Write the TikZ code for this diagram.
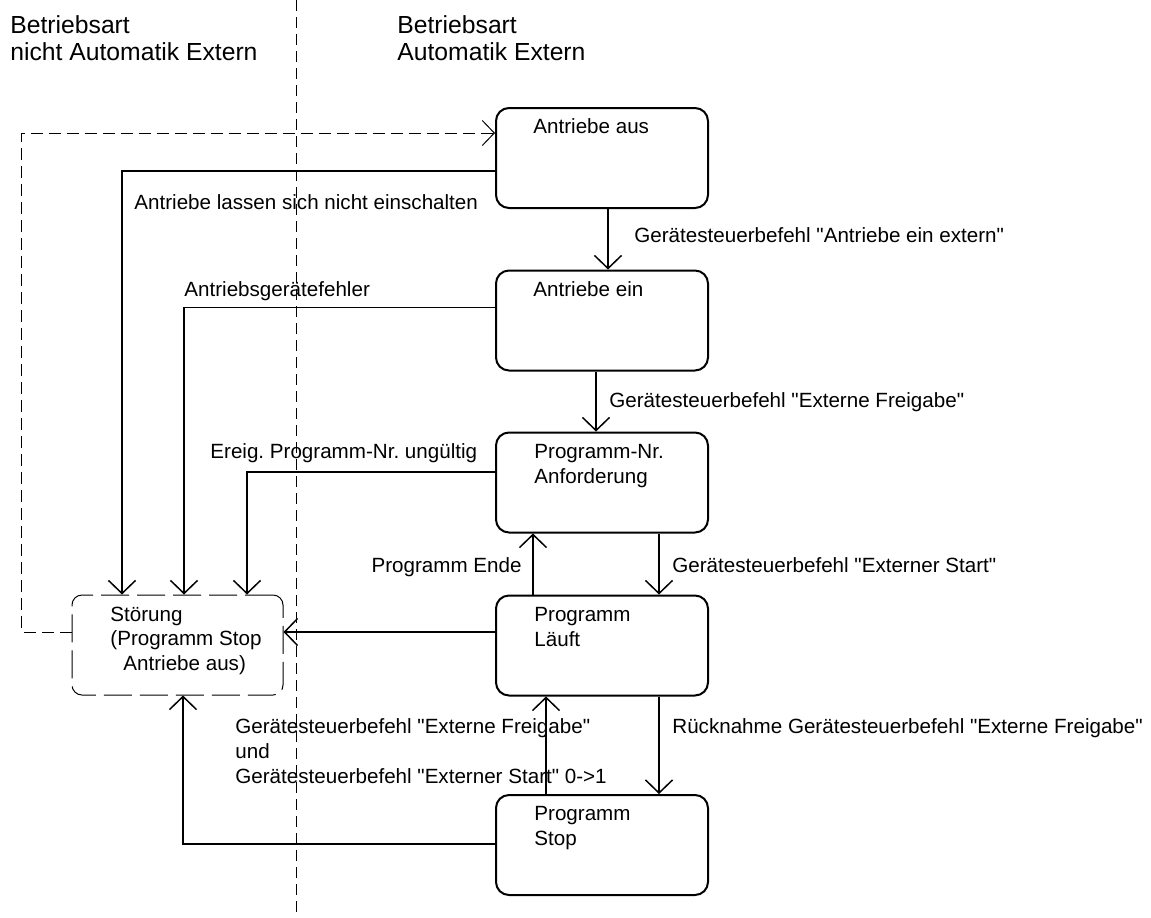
\documentclass[tikz,border=0pt]{standalone}
\usepackage{fontspec}
\setmainfont{Liberation Sans}
\usetikzlibrary{arrows.meta}
\newcommand{\qd}{\textquotedbl}
\frenchspacing
\tikzset{
  statebox/.style={draw, line width=1pt, rounded corners=6.5pt, minimum width=106pt, minimum height=50pt, inner sep=0pt},
  errbox/.style={draw, line width=0.5pt, dash pattern=on 14pt off 4pt, rounded corners=5pt, minimum width=105.5pt, minimum height=50pt, inner sep=0pt},
  txt/.style={anchor=base west, inner sep=0pt, align=left, font=\fontsize{10.3pt}{12.5pt}\selectfont},
  txte/.style={txt, anchor=base east, align=right},
  ttl/.style={anchor=base west, inner sep=0pt, align=left, font=\fontsize{12.35pt}{13.5pt}\selectfont},
  arr/.style={draw, line width=0.75pt, -{Straight Barb[length=6.5pt,width=13.5pt]}},
  dasharr/.style={draw, line width=0.5pt, dash pattern=on 6pt off 3pt, -{Straight Barb[length=6pt,width=12.5pt]}},
  divider/.style={draw, line width=0.45pt, dash pattern=on 5.5pt off 3pt}
}
\begin{document}
\begin{tikzpicture}[x=0.5pt, y=-0.5pt]
\fill[white] (0,0) rectangle (1151,917);
\useasboundingbox (0,0) rectangle (1151,917);

% divider
\draw[divider] (296,0) -- (296,917);

% titles (anchor at last line's baseline)
\node[ttl] (tleft) at (10,60) {Betriebsart\\nicht Automatik Extern};
\node[ttl] (tright) at (397,60) {Betriebsart\\Automatik Extern};

% state boxes
\node[statebox] (aus) at (602,158) {};
\node[statebox] (ein) at (602,320.5) {};
\node[statebox] (nr) at (602,482.5) {};
\node[statebox] (lauft) at (602,645.5) {};
\node[statebox] (stop) at (602,845) {};
\node[errbox] (stoer) at (177.5,645) {};

% box texts
\node[txt] (aust) at (533,133) {Antriebe aus};
\node[txt] (eint) at (533,296) {Antriebe ein};
\node[txt] (nrt) at (534,483) {Programm-Nr.\\Anforderung};
\node[txt] (lauftt) at (534,646) {Programm\\Läuft};
\node[txt] (stopt) at (534,845) {Programm\\Stop};
\node[txt, font=\fontsize{10.3pt}{12.25pt}\selectfont] (stoert) at (110,670) {Störung\\(Programm Stop\\\hspace*{6.5pt}Antriebe aus)};

% vertical transitions
\draw[arr] ([xshift=3pt]aus.south) -- ([xshift=3pt]ein.north);
\draw[arr] ([xshift=-3pt]ein.south) -- ([xshift=-3pt]nr.north);
\draw[arr] ([xshift=28.5pt]nr.south) -- ([xshift=28.5pt]lauft.north);
\draw[arr] ([xshift=-34.5pt]lauft.north) -- ([xshift=-34.5pt]nr.south);
\draw[arr] ([xshift=28.5pt]lauft.south) -- ([xshift=28.5pt]stop.north);
\draw[arr] ([xshift=-28pt]stop.north) -- ([xshift=-28pt]lauft.south);

% transitions to Störung
\draw[arr] ([yshift=-6.5pt]aus.west) -| ([xshift=-27.75pt]stoer.north);
\draw[arr] ([yshift=6.5pt]ein.west) -| ([xshift=3.25pt]stoer.north);
\draw[arr] ([yshift=5.25pt]nr.west) -| ([xshift=34.75pt]stoer.north);
\draw[arr] ([yshift=6.75pt]lauft.west) -- ([yshift=6.75pt]lauft.west -| stoer.east);
\draw[arr] ([yshift=0.5pt]stop.west) -| ([xshift=2.75pt]stoer.south);

% dashed return
\draw[dasharr] ([yshift=6.5pt]stoer.west) -- ++(-25pt,0) |- ([yshift=12.5pt]aus.west);

% labels
\node[txt] (l1) at (634,242) {Gerätesteuerbefehl \qd Antriebe ein extern\qd};
\node[txt] (l2) at (609,407) {Gerätesteuerbefehl \qd Externe Freigabe\qd};
\node[txt] (l3) at (672,572) {Gerätesteuerbefehl \qd Externer Start\qd};
\node[txte] (l4) at (522,572) {Programm Ende};
\node[txt] (l5) at (672,733) {Rücknahme Gerätesteuerbefehl \qd Externe Freigabe\qd};
\node[txt] (l6) at (235,783) {Gerätesteuerbefehl \qd Externe Freigabe\qd\\und\\Gerätesteuerbefehl \qd Externer Start\qd{} 0->1};
\node[txt] (l7) at (134,209) {Antriebe lassen sich nicht einschalten};
\node[txt] (l8) at (184,296) {Antriebsgerätefehler};
\node[txt] (l9) at (210,458) {Ereig. Programm-Nr. ungültig};
\end{tikzpicture}
\end{document}
